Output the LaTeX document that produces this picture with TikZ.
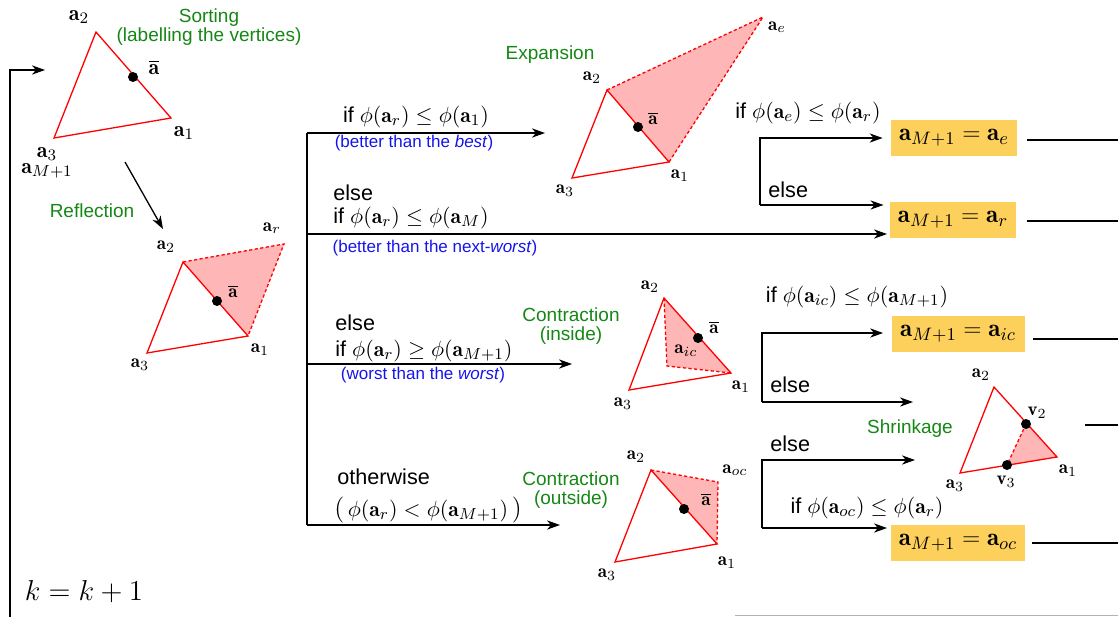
\documentclass[tikz,border=0pt]{standalone}
\usepackage{amsmath,amssymb}
\usepackage{fontspec}
\setsansfont{Liberation Sans}
\usetikzlibrary{arrows.meta,positioning}

\definecolor{stepgreen}{RGB}{20,135,20}
\definecolor{noteblue}{RGB}{20,20,235}
\definecolor{movefill}{RGB}{255,182,182}
\definecolor{resfill}{RGB}{253,208,92}

\newcommand{\va}[1]{\mathbf{a}_{#1}}
\newcommand{\vbar}{\overline{\mathbf{a}}}
\newcommand{\wideparen}[1]{{\fontsize{13}{14}\selectfont #1}}

\begin{document}
\begin{tikzpicture}[
    x=0.5pt, y=-0.5pt,
    flow/.style={-{Stealth[length=6.5pt,width=4.6pt,inset=2pt]}, line width=0.65pt},
    wire/.style={line width=0.65pt},
    edge/.style={draw=red, line width=0.65pt},
    move/.style={draw=red, line width=0.65pt, dash pattern=on 1.6pt off 1.2pt},
    region/.style={fill=movefill},
    vtx/.style={inner sep=0pt, font=\fontsize{9.5}{11}\selectfont},
    bigvtx/.style={inner sep=0pt, font=\fontsize{11}{13}\selectfont},
    cent/.style={circle, fill, inner sep=0pt, minimum size=5pt},
    steplabel/.style={text=stepgreen, align=center, inner sep=0pt, font=\sffamily\fontsize{9.5}{9.5}\selectfont},
    cond/.style={inner sep=0pt, font=\fontsize{10.8}{12.6}\selectfont},
    note/.style={text=noteblue, inner sep=0pt, font=\sffamily\fontsize{8.5}{10}\selectfont},
    result/.style={fill=resfill, minimum height=18pt, inner xsep=4pt, font=\fontsize{12.5}{14}\selectfont}
]
\useasboundingbox (0,0) rectangle (1118,616);

% sorting
\coordinate (s2) at (96,32);
\coordinate (s1) at (171,118);
\coordinate (s3) at (54,138);
\draw[edge] (s2) -- (s1) -- (s3) -- cycle;
\node[cent] (sbar) at (133,77) {};
\node[bigvtx] (s2lab) at (79,17) {$\va{2}$};
\node[bigvtx] (sbarlab) at (154,67) {$\vbar$};
\node[bigvtx] (s1lab) at (184,133) {$\va{1}$};
\node[bigvtx] (s3lab) at (47,154) {$\va{3}$};
\node[bigvtx, below=1pt of s3lab] (sMlab) {$\va{M+1}$};
\node[steplabel] (sorting) at (209,27) {Sorting\\(labelling the vertices)};

% reflection
\coordinate (r2) at (183,262);
\coordinate (r1) at (248,336);
\coordinate (r3) at (147,353);
\coordinate (rr) at (284,244);
\fill[region] (r2) -- (rr) -- (r1) -- cycle;
\draw[move] (r2) -- (rr) -- (r1);
\draw[edge] (r2) -- (r1) -- (r3) -- cycle;
\node[cent] (rbar) at (217,301) {};
\node[vtx] (r2lab) at (166,247) {$\va{2}$};
\node[vtx] (rrlab) at (272,228) {$\va{r}$};
\node[vtx] (rbarlab) at (233,291) {$\vbar$};
\node[vtx] (r1lab) at (260,350) {$\va{1}$};
\node[vtx] (r3lab) at (140,365) {$\va{3}$};
\node[steplabel] (reflection) at (92,211) {Reflection};
\coordinate (sortout) at (125,162);
\coordinate (reflin) at (163,229);
\draw[flow] (sortout) -- (reflin);

% branching after the reflection
\coordinate (bt) at (307,133);
\coordinate (bb) at (307,525);
\coordinate (expin) at (545,133);
\coordinate (resrin) at (887,234);
\coordinate (icin) at (572,364);
\coordinate (ocin) at (560,525);
\draw[wire] (bt) -- (bb);
\draw[flow] (bt) -- (expin);
\draw[flow] (bt |- resrin) -- (resrin);
\draw[flow] (bt |- icin) -- (icin);
\draw[flow] (bb) -- (ocin);

\node[cond] (c1) at (416,117) {\sffamily if \rmfamily$\phi(\va{r}) \le \phi(\va{1})$};
\node[note] (n1) at (414,143) {(better than the \textit{best})};
\node[cond, anchor=west] (c2a) at (333,193) {\sffamily else};
\node[cond, anchor=west] (c2) at (333,218) {\sffamily if \rmfamily$\phi(\va{r}) \le \phi(\va{M})$};
\node[note] (n2) at (435,248) {(better than the next-\textit{worst})};
\node[cond, anchor=west] (c3a) at (335,323) {\sffamily else};
\node[cond, anchor=west] (c3) at (335,351) {\sffamily if \rmfamily$\phi(\va{r}) \ge \phi(\va{M+1})$};
\node[note] (n3) at (423,375) {(worst than the \textit{worst})};
\node[cond, anchor=west] (c4a) at (337,477) {\sffamily otherwise};
\node[cond, anchor=west] (c4) at (334,510) {\wideparen{(}\,$\phi(\va{r}) < \phi(\va{M+1})$\,\wideparen{)}};

% expansion
\coordinate (e2) at (607,90);
\coordinate (e1) at (669,162);
\coordinate (e3) at (572,178);
\coordinate (ee) at (763,17);
\fill[region] (e2) -- (ee) -- (e1) -- cycle;
\draw[move] (e2) -- (ee) -- (e1);
\draw[edge] (e2) -- (e1) -- (e3) -- cycle;
\node[cent] (ebar) at (638,127) {};
\node[vtx] (e2lab) at (592,78) {$\va{2}$};
\node[vtx] (eelab) at (777,27) {$\va{e}$};
\node[vtx] (ebarlab) at (653,118) {$\vbar$};
\node[vtx] (e1lab) at (680,176) {$\va{1}$};
\node[vtx] (e3lab) at (565,191) {$\va{3}$};
\node[steplabel] (expansion) at (550,55) {Expansion};

\node[result, minimum width=61.5pt] (rese) at (954,138) {$\va{M+1} = \va{e}$};
\node[result, minimum width=61.5pt] (resr) at (953,220) {$\va{M+1} = \va{r}$};
\coordinate (et) at (760,138);
\coordinate (eb) at (760,205);
\draw[flow] (eb) -- (et) -- ([xshift=-4pt]rese.west);
\draw[flow] (eb) -- ([xshift=-3pt]resr.west |- eb);
\node[cond] (c5) at (808,113) {\sffamily if \rmfamily$\phi(\va{e}) \le \phi(\va{r})$};
\node[cond, anchor=west] (c5a) at (768,190) {\sffamily else};

% inside contraction
\coordinate (i2) at (664,298);
\coordinate (i1) at (731,373);
\coordinate (i3) at (629,390);
\coordinate (ic) at (667,366);
\fill[region] (i2) -- (ic) -- (i1) -- cycle;
\draw[move] (i2) -- (ic) -- (i1);
\draw[edge] (i2) -- (i1) -- (i3) -- cycle;
\node[cent] (ibar) at (698,338) {};
\node[vtx] (i2lab) at (650,287) {$\va{2}$};
\node[vtx] (ibarlab) at (714,327) {$\vbar$};
\node[vtx] (iclab) at (686,351) {$\va{ic}$};
\node[vtx] (i1lab) at (741,387) {$\va{1}$};
\node[vtx] (i3lab) at (623,404) {$\va{3}$};
\node[steplabel] (inside) at (571,326) {Contraction\\(inside)};

\node[result, minimum width=66.5pt] (resic) at (958,334) {$\va{M+1} = \va{ic}$};
\coordinate (it) at (762,333);
\coordinate (ib) at (762,402);
\coordinate (shrin) at (913,402);
\draw[flow] (ib) -- (it) -- ([xshift=-4pt]resic.west |- it);
\draw[flow] (ib) -- (shrin);
\node[cond] (c6) at (857,297) {\sffamily if \rmfamily$\phi(\va{ic}) \le \phi(\va{M+1})$};
\node[cond, anchor=west] (c6a) at (770,385) {\sffamily else};

% shrinkage
\coordinate (h2) at (994,387);
\coordinate (h1) at (1057,457);
\coordinate (h3) at (960,473);
\coordinate (hv2) at (1026,424);
\coordinate (hv3) at (1007,465);
\fill[region] (hv2) -- (h1) -- (hv3) -- cycle;
\draw[move] (hv2) -- (hv3);
\draw[edge] (h2) -- (h1) -- (h3) -- cycle;
\node[cent] (hv2dot) at (hv2) {};
\node[cent] (hv3dot) at (hv3) {};
\node[vtx] (h2lab) at (981,375) {$\va{2}$};
\node[vtx] (hv2lab) at (1037,413) {$\mathbf{v}_2$};
\node[vtx] (h1lab) at (1068,471) {$\va{1}$};
\node[vtx] (h3lab) at (955,486) {$\va{3}$};
\node[vtx] (hv3lab) at (1006,482) {$\mathbf{v}_3$};
\node[steplabel] (shrinkage) at (910,429) {Shrinkage};

% outside contraction
\coordinate (o2) at (651,470);
\coordinate (o1) at (717,544);
\coordinate (o3) at (615,562);
\coordinate (oc) at (718,482);
\fill[region] (o2) -- (oc) -- (o1) -- cycle;
\draw[move] (o2) -- (oc) -- (o1);
\draw[edge] (o2) -- (o1) -- (o3) -- cycle;
\node[cent] (obar) at (684,509) {};
\node[vtx] (o2lab) at (636,457) {$\va{2}$};
\node[vtx] (oclab) at (735,470) {$\va{oc}$};
\node[vtx] (obarlab) at (706,499) {$\vbar$};
\node[vtx] (o1lab) at (727,563) {$\va{1}$};
\node[vtx] (o3lab) at (607,575) {$\va{3}$};
\node[steplabel] (outside) at (571,490) {Contraction\\(outside)};

\node[result, minimum width=63.5pt] (resoc) at (958,543) {$\va{M+1} = \va{oc}$};
\coordinate (ot) at (762,460);
\coordinate (ob) at (762,528);
\coordinate (shrin2) at (915,460);
\coordinate (ocres) at (887,528);
\draw[flow] (ob) -- (ot) -- (shrin2);
\draw[flow] (ob) -- (ocres);
\node[cond] (c7) at (867,508) {\sffamily if \rmfamily$\phi(\va{oc}) \le \phi(\va{r})$};
\node[cond, anchor=west] (c7a) at (770,444) {\sffamily else};

% outputs to the right edge
\coordinate (oute) at (1125,140);
\coordinate (outr) at (1125,221);
\coordinate (outic) at (1125,339);
\coordinate (outsh) at (1125,425);
\coordinate (outoc) at (1125,543);
\draw[wire] ([xshift=5pt]rese.east |- oute) -- (oute);
\draw[wire] ([xshift=5pt]resr.east |- outr) -- (outr);
\draw[wire] ([xshift=4pt]resic.east |- outic) -- (outic);
\draw[wire] (1085,425) -- (outsh);
\draw[wire] ([xshift=3pt]resoc.east |- outoc) -- (outoc);
\draw[gray!60, line width=0.4pt] (735,615) -- (1125,615);

% loop back
\coordinate (lb) at (10,620);
\coordinate (lin) at (45,70);
\draw[flow] (lb) |- (lin);
\node[inner sep=0pt, font=\fontsize{13.5}{16}\selectfont] (kinc) at (84,592) {$k = k + 1$};
\end{tikzpicture}
\end{document}
